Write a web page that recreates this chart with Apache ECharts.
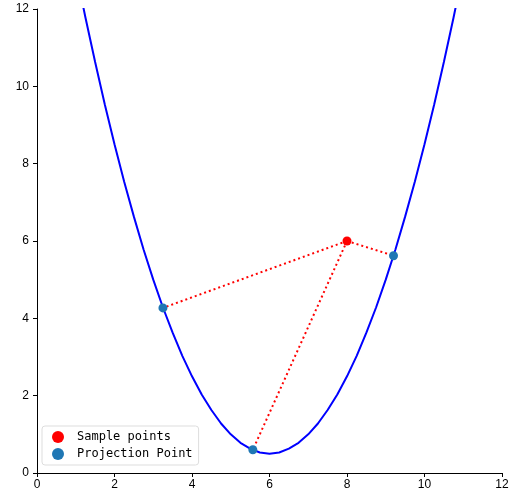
<!DOCTYPE html>
<html>
<head>
<meta charset="utf-8">
<script src="https://cdn.jsdelivr.net/npm/echarts@6/dist/echarts.min.js"></script>
<style>
  html, body { margin: 0; padding: 0; background: #fff; }
  #chart { width: 514px; height: 497px; }
</style>
</head>
<body>
<div id="chart"></div>
<script>
// curve points
var curveX = [1, 1.25, 1.5, 1.75, 2, 2.25, 2.5, 2.75, 3, 3.25, 3.5, 3.75, 4, 4.25, 4.5, 4.75, 5, 5.25, 5.5, 5.75,
              6, 6.25, 6.5, 6.75, 7, 7.25, 7.5, 7.75, 8, 8.25, 8.5, 8.75, 9, 9.25, 9.5, 9.75, 10, 10.25, 10.5, 10.75, 11];
var curveY = [13, 11.78, 10.63, 9.53, 8.5, 7.53, 6.63, 5.78, 5, 4.28, 3.63, 3.03, 2.5, 2.03, 1.63, 1.28, 1, 0.78, 0.63, 0.53,
              0.5, 0.53, 0.63, 0.78, 1, 1.28, 1.63, 2.03, 2.5, 3.03, 3.63, 4.28, 5, 5.78, 6.63, 7.53, 8.5, 9.53, 10.63, 11.78, 13];
var samplePoint = [8, 6];
var projX = [3.25, 5.57, 9.2];
var projY = [4.27, 0.6, 5.62];

var curve = curveX.map(function(x, i) { return [x, curveY[i]]; });
var proj = projX.map(function(x, i) { return [x, projY[i]]; });

// dotted connectors, broken with nulls
var links = [];
proj.forEach(function(p, i) {
    if (i > 0) links.push([null, null]);
    links.push(samplePoint);
    links.push(p);
});

var axisCommon = {
    type: 'value',
    min: 0,
    max: 12,
    interval: 2,
    splitLine: { show: false },
    axisLine: { show: true, onZero: false, lineStyle: { color: '#000', width: 1 } },
    axisTick: { show: true, length: 4, lineStyle: { color: '#000' } },
    axisLabel: { color: '#000', fontFamily: 'Liberation Sans', fontSize: 12 }
};

var myChart = echarts.init(document.getElementById('chart'));
var option = {
    animation: false,
    grid: { left: 37, right: 12, top: 9, bottom: 24 },
    xAxis: echarts.util.merge({ axisLabel: { margin: 6 } }, axisCommon, true),
    yAxis: echarts.util.merge({ axisLabel: { margin: 8 } }, axisCommon, true),
    legend: {
        orient: 'vertical',
        left: 42,
        top: 426,
        padding: [5, 6, 5, 10],
        itemGap: 5,
        itemWidth: 12,
        itemHeight: 12,
        borderColor: '#ddd',
        borderWidth: 1,
        borderRadius: 3,
        backgroundColor: 'rgba(255,255,255,0.8)',
        textStyle: { fontFamily: 'DejaVu Sans Mono', fontSize: 12, color: '#000', padding: [0, 0, 0, 8] },
        data: [
            { name: 'Sample points', icon: 'circle' },
            { name: 'Projection Point', icon: 'circle' }
        ]
    },
    series: [{
        name: 'curve',
        type: 'line',
        data: curve,
        showSymbol: false,
        clip: true,
        lineStyle: { color: '#0000ff', width: 2 },
        z: 2
    }, {
        name: 'links',
        type: 'line',
        data: links,
        connectNulls: false,
        showSymbol: false,
        lineStyle: { color: '#ff0000', width: 2, type: [2, 3] },
        z: 3
    }, {
        name: 'Sample points',
        type: 'scatter',
        data: [samplePoint],
        symbolSize: 9,
        itemStyle: { color: '#ff0000', opacity: 1 },
        z: 5
    }, {
        name: 'Projection Point',
        type: 'scatter',
        data: proj,
        symbolSize: 9,
        itemStyle: { color: '#1f77b4', opacity: 1 },
        z: 5
    }]
};
myChart.setOption(option);
</script>
</body>
</html>
